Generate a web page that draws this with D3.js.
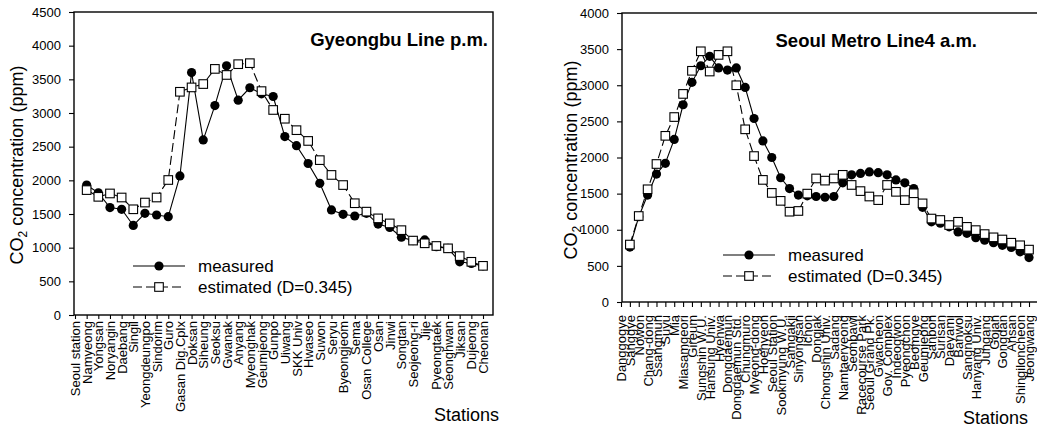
<!DOCTYPE html>
<html>
<head>
<meta charset="utf-8">
<script src="https://cdn.jsdelivr.net/npm/d3@7"></script>
<style>
  body { margin: 0; background: #fff; }
  svg { display: block; }
  text { font-family: "Liberation Sans", Arial, sans-serif; fill: #000; }
</style>
</head>
<body>
<div id="container"></div>
<script>
const w = 1037;
const h = 428;

// Gyeongbu Line p.m. (first station has no plotted point in the figure)
const gyeongbuStations = ["Seoul station", "Namyeong", "Yongsan", "Noryangin", "Daebang", "Singil",
  "Yeongdeungpo", "Sindorim", "Guro", "Gasan Dig.Cplx", "Doksan", "Siheung", "Seoksu", "Gwanak",
  "Anyang", "Myeonghak", "Geumjeong", "Gunpo", "Uiwang", "SKK Univ", "Hwaseo", "Suwon", "Seryu",
  "Byeongjeom", "Sema", "Osan College", "Osan", "Jinwi", "Songtan", "Seojeong-ri", "Jije",
  "Pyeongtaek", "Seonghwan", "Jiksan", "Dujeong", "Cheonan"];
const gyeongbuMeasured = [null, 1930, 1815, 1595, 1570, 1330, 1510, 1485, 1460, 2065, 3600, 2600,
  3110, 3700, 3190, 3375, 3285, 3245, 2650, 2515, 2250, 1955, 1560, 1495, 1470, 1510, 1350, 1300,
  1155, 1105, 1115, 1015, 990, 790, 765, 730];
const gyeongbuEstimated = [null, 1855, 1755, 1805, 1745, 1570, 1670, 1745, 2005, 3315, 3380, 3430,
  3655, 3565, 3725, 3740, 3325, 3045, 2915, 2745, 2585, 2300, 2080, 1930, 1660, 1535, 1435, 1360,
  1260, 1105, 1065, 1025, 990, 875, 790, 730];

// Seoul Metro Line4 a.m.
const line4Stations = ["Danggogye", "Sanggye", "Nowon", "Chang-dong", "Ssangmun", "Suyu", "Mia",
  "Miasamgeori", "Gireum", "Sungshin W.U.", "Hansung Univ.", "Hyehwa", "Dongdaemun",
  "Dongdaemun Std.", "Chungmuro", "Myeong-dong", "Hoehyeon", "Seoul Station", "Sookmyung W.U.",
  "Samgakji", "Sinyongsan", "Ichon", "Dongjak", "Chongshin Univ.", "Sadang", "Namtaeryeong",
  "Seonbawi", "Racecourse Park", "Seoul Grand Pk.", "Gwacheon", "Gov. Complex", "Indeogwon",
  "Pyeongchon", "Beomgye", "Geumjeong", "Sanbon", "Surisan", "Daeyami", "Banwol", "Sangnoksu",
  "Hanyang Univ.", "Jungang", "Gojan", "Gongdan", "Ansan", "Shingiloncheon", "Jeongwang"];
const line4Measured = [null, 760, 1180, 1480, 1770, 1920, 2250, 2730, 3040, 3270, 3400, 3240, 3210,
  3240, 2970, 2540, 2230, 2000, 1720, 1570, 1480, 1470, 1460, 1450, 1460, 1650, 1760, 1780, 1800,
  1790, 1760, 1690, 1650, 1570, 1310, 1110, 1090, 1040, 970, 950, 890, 855, 820, 785, 755, 695, 615];
const line4Estimated = [null, 795, 1190, 1560, 1910, 2300, 2560, 2880, 3200, 3470, 3190, 3420, 3470,
  3000, 2390, 2020, 1690, 1510, 1400, 1250, 1260, 1500, 1710, 1680, 1710, 1760, 1620, 1535, 1460,
  1410, 1620, 1525, 1410, 1505, 1365, 1155, 1135, 1065, 1110, 1040, 995, 940, 895, 865, 820, 785, 725];

const yTicksGyeongbu = d3.range(0, 4501, 500);
const yTicksLine4 = d3.range(0, 4001, 500);

const svg = d3.select("#container").append("svg")
  .attr("width", w).attr("height", h);

function drawPanel(p) {
  const g = svg.append("g");
  const y = d3.scaleLinear().domain([0, p.yMax]).range([p.bottom, p.top]);
  const x = d3.scalePoint().domain(p.stations).range(p.xRange);

  const yAxis = d3.axisLeft(y).tickValues(p.yTicks).tickFormat(d3.format("d"))
    .tickSize(5).tickSizeOuter(0).tickPadding(8);
  const yg = g.append("g")
    .attr("transform", "translate(" + p.left + ",0)")
    .call(yAxis);
  yg.select(".domain").remove();
  yg.selectAll("text").style("font-size", "13px");

  const xAxis = d3.axisBottom(x).tickSize(p.xTickSize).tickSizeOuter(0);
  const xg = g.append("g")
    .attr("transform", "translate(0," + p.bottom + ")")
    .call(xAxis);
  xg.select(".domain").remove();
  xg.selectAll("text")
    .style("font-size", "13px")
    .attr("transform", "rotate(-90)")
    .attr("text-anchor", "end")
    .attr("x", -p.labelGap)
    .attr("y", 0)
    .attr("dy", "0.35em");
  g.selectAll(".tick line").attr("stroke-width", 1.1);

  // frame (right panel runs past the picture edge, as in the scan)
  g.append("rect")
    .attr("x", p.left).attr("y", p.top)
    .attr("width", p.right - p.left).attr("height", p.bottom - p.top)
    .attr("fill", "none").attr("stroke", "#000").attr("stroke-width", 1.4);

  const line = d3.line()
    .defined(d => d.v != null)
    .x(d => x(d.s))
    .y(d => y(d.v));

  const meas = p.stations.map((s, i) => ({ s: s, v: p.measured[i] }));
  const est = p.stations.map((s, i) => ({ s: s, v: p.estimated[i] }));

  g.append("path").datum(meas)
    .attr("d", line).attr("fill", "none").attr("stroke", "#000").attr("stroke-width", 1.1);
  g.selectAll(".dot").data(meas.filter(d => d.v != null)).enter().append("circle")
    .attr("class", "dot")
    .attr("cx", d => x(d.s)).attr("cy", d => y(d.v))
    .attr("r", 4.6).attr("fill", "#000");

  g.append("path").datum(est)
    .attr("d", line).attr("fill", "none").attr("stroke", "#000").attr("stroke-width", 1.1)
    .attr("stroke-dasharray", "9,4");
  g.selectAll(".sq").data(est.filter(d => d.v != null)).enter().append("rect")
    .attr("class", "sq")
    .attr("x", d => x(d.s) - 4.3).attr("y", d => y(d.v) - 4.3)
    .attr("width", 8.6).attr("height", 8.6)
    .attr("fill", "#fff").attr("stroke", "#000").attr("stroke-width", 1.1);

  // legend
  const lg = g.append("g").attr("transform", "translate(" + p.legendX + "," + p.legendY + ")");
  lg.append("line").attr("x1", 0).attr("x2", 52).attr("y1", 0).attr("y2", 0)
    .attr("stroke", "#000").attr("stroke-width", 1.1);
  lg.append("circle").attr("cx", 26).attr("cy", 0).attr("r", 4.6).attr("fill", "#000");
  lg.append("text").attr("x", 65).attr("y", 0).attr("dy", "0.35em")
    .style("font-size", "17px").text("measured");
  lg.append("line").attr("x1", 0).attr("x2", 52).attr("y1", 21).attr("y2", 21)
    .attr("stroke", "#000").attr("stroke-width", 1.1).attr("stroke-dasharray", "9,4");
  lg.append("rect").attr("x", 21.7).attr("y", 16.7).attr("width", 8.6).attr("height", 8.6)
    .attr("fill", "#fff").attr("stroke", "#000").attr("stroke-width", 1.1);
  lg.append("text").attr("x", 65).attr("y", 21).attr("dy", "0.35em")
    .style("font-size", "17px").text("estimated (D=0.345)");

  // title
  g.append("text")
    .attr("x", p.titleX).attr("y", p.titleY)
    .attr("text-anchor", "end")
    .style("font-size", "18.5px").style("font-weight", "bold")
    .text(p.title);

  // y label with subscript
  const yl = g.append("text")
    .attr("transform", "translate(" + p.yLabelX + "," + p.yLabelY + ") rotate(-90)")
    .attr("text-anchor", "middle")
    .attr("dy", "0.35em")
    .style("font-size", "18px");
  yl.append("tspan").text("CO");
  yl.append("tspan").attr("dy", "4").style("font-size", "12px").text("2");
  yl.append("tspan").attr("dy", "-4").text(" concentration (ppm)");

  g.append("text")
    .attr("x", p.stationsX).attr("y", p.stationsY)
    .attr("text-anchor", "end")
    .style("font-size", "18px")
    .text("Stations");
}

drawPanel({
  stations: gyeongbuStations, measured: gyeongbuMeasured, estimated: gyeongbuEstimated,
  yMax: 4500, yTicks: yTicksGyeongbu,
  left: 74, right: 493, top: 12, bottom: 315,
  xRange: [75, 483], xTickSize: 4, labelGap: 6,
  legendX: 133, legendY: 266,
  title: "Gyeongbu Line p.m.", titleX: 488, titleY: 46,
  yLabelX: 17, yLabelY: 165,
  stationsX: 499, stationsY: 421
});

drawPanel({
  stations: line4Stations, measured: line4Measured, estimated: line4Estimated,
  yMax: 4000, yTicks: yTicksLine4,
  left: 622, right: 1042, top: 13, bottom: 302,
  xRange: [621, 1029], xTickSize: 5, labelGap: 13,
  legendX: 723, legendY: 255,
  title: "Seoul Metro Line4 a.m.", titleX: 977, titleY: 47,
  yLabelX: 571, yLabelY: 160,
  stationsX: 1028, stationsY: 424
});
</script>
</body>
</html>
